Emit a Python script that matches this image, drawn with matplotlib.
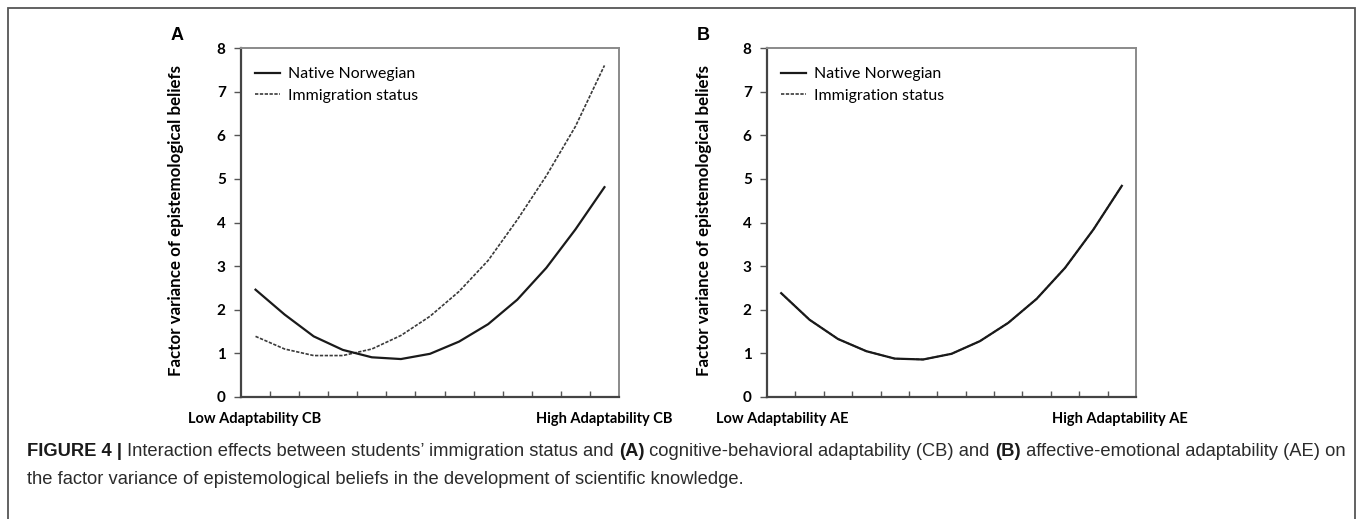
import matplotlib
matplotlib.use("Agg")
import matplotlib.pyplot as plt
from matplotlib.patches import Rectangle
import numpy as np

# values (13 equally spaced points along adaptability)
native_a = [2.46, 1.89, 1.39, 1.08, 0.91, 0.87, 0.99, 1.27, 1.67, 2.23, 2.96, 3.84, 4.81]
immig_a = [1.39, 1.10, 0.95, 0.95, 1.10, 1.41, 1.85, 2.42, 3.13, 4.06, 5.07, 6.20, 7.60]
native_b = [2.38, 1.77, 1.33, 1.05, 0.88, 0.86, 0.99, 1.28, 1.70, 2.25, 2.96, 3.84, 4.84]
immig_b = [2.38, 1.77, 1.33, 1.05, 0.88, 0.86, 0.99, 1.28, 1.70, 2.25, 2.96, 3.84, 4.84]

y_ticks = [0, 1, 2, 3, 4, 5, 6, 7, 8]
series_names = ["Native Norwegian", "Immigration status"]
ylab = "Factor variance of epistemological beliefs"

W, H = 1357, 519
fig = plt.figure(figsize=(W / 100, H / 100), dpi=100)

# outer frame of the figure box
fig.patches.append(Rectangle((8 / W, -0.02), (1355 - 8) / W, 1.02 - 8 / H,
                             transform=fig.transFigure, fill=False,
                             edgecolor="#555555", linewidth=1.3, clip_on=False))

panels = [
    ("A", 241, 619, native_a, immig_a, "Low Adaptability CB", "High Adaptability CB", 188, 672, 176),
    ("B", 767, 1136, native_b, immig_b, "Low Adaptability AE", "High Adaptability AE", 716, 1188, 704),
]

for tag, x0, x1, nat, imm, low, high, lowx, highx, ylx in panels:
    ax = fig.add_axes([x0 / W, (H - 397) / H, (x1 - x0) / W, (397 - 48) / H])
    x = np.arange(len(nat))
    ax.plot(x, imm, color="#3a3a3a", lw=1.2, ls=(0, (2.0, 0.9)), label=series_names[1], zorder=2)
    ax.plot(x, nat, color="#1a1a1a", lw=1.6, label=series_names[0], zorder=3)

    ax.set_xlim(-0.5, len(nat) - 0.5)
    ax.set_ylim(0, 8)
    ax.set_yticks(y_ticks)
    ax.set_yticklabels([str(v) for v in y_ticks], fontfamily="Lato", fontweight="bold", fontsize=11)
    ax.set_xticks(np.arange(0.5, len(nat) - 1, 1.0))
    ax.set_xticklabels([])
    ax.tick_params(axis="x", direction="in", length=4, width=1, color="#555555")
    ax.tick_params(axis="y", direction="out", length=5, width=1, color="#555555", pad=6)

    for s in ["left", "bottom"]:
        ax.spines[s].set_color("#444444")
        ax.spines[s].set_linewidth(1.6)
    for s in ["top", "right"]:
        ax.spines[s].set_color("#8a8a8a")
        ax.spines[s].set_linewidth(1.4)

    # legend in reversed drawing order (native first)
    h, l = ax.get_legend_handles_labels()
    ax.legend(h[::-1], l[::-1], loc="upper left", bbox_to_anchor=(-0.005, 0.99),
              frameon=False, prop={"family": "Lato", "size": 11.4},
              handlelength=1.6, handletextpad=0.5, labelspacing=0.45, borderaxespad=0.6)

    fig.text(ylx / W, 1 - 220 / H, ylab, rotation=90, ha="center", va="center",
             fontfamily="Lato", fontweight="bold", fontsize=12.2)
    fig.text(lowx / W, 1 - 419 / H, low, ha="left", va="center",
             fontfamily="Lato", fontweight="bold", fontsize=10.5)
    fig.text(highx / W, 1 - 419 / H, high, ha="right", va="center",
             fontfamily="Lato", fontweight="bold", fontsize=10.5)
    fig.text((x0 - 64) / W, 1 - 35 / H, tag, ha="center", va="center",
             fontfamily="Liberation Sans", fontweight="bold", fontsize=13)

# caption with mixed bold / regular runs
renderer = fig.canvas.get_renderer()
cap_lines = [
    [("FIGURE 4 | ", "bold"), ("Interaction effects between students\u2019 immigration status and ", "normal"),
     ("(A)", "bold"), (" cognitive-behavioral adaptability (CB) and ", "normal"), ("(B)", "bold"),
     (" affective-emotional adaptability (AE) on", "normal")],
    [("the factor variance of epistemological beliefs in the development of scientific knowledge.", "normal")],
]
for ln, y in zip(cap_lines, [452, 479]):
    xpos = 27 / W
    for txt, wt in ln:
        t = fig.text(xpos, 1 - y / H, txt, ha="left", va="center", fontfamily="Liberation Sans",
                     fontweight=wt, fontsize=13.2, color="#2b2b2b" if wt == "normal" else "#1a1a1a")
        bb = t.get_window_extent(renderer=renderer)
        xpos += bb.width / W

fig.savefig("out.png", dpi=100)
